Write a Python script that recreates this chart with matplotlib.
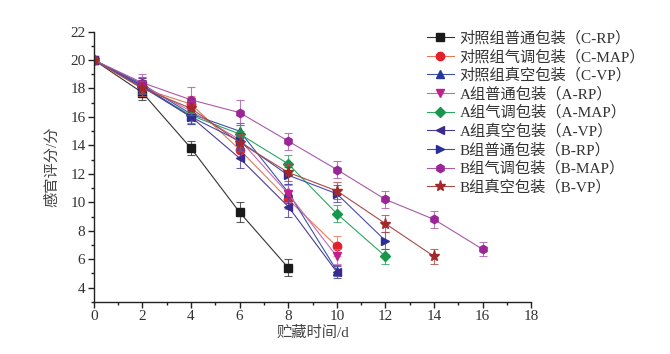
import matplotlib
matplotlib.use("Agg")
import matplotlib.pyplot as plt
from matplotlib.ticker import MultipleLocator

plt.rcParams['font.family'] = ['Liberation Serif', 'Noto Sans CJK SC', 'DejaVu Sans']

labels = ["对照组普通包装（C-RP）", "对照组气调包装（C-MAP）", "对照组真空包装（C-VP）",
          "A组普通包装（A-RP）", "A组气调包装（A-MAP）", "A组真空包装（A-VP）",
          "B组普通包装（B-RP）", "B组气调包装（B-MAP）", "B组真空包装（B-VP）"]

days_c_rp = [0, 2, 4, 6, 8]
c_rp = [20, 17.7, 13.8, 9.3, 5.4]
err_c_rp = [0, 0.5, 0.5, 0.7, 0.6]

days_c_map = [0, 2, 4, 6, 8, 10]
c_map = [20, 18.0, 16.9, 13.7, 10.2, 6.9]
err_c_map = [0, 0.5, 0.6, 0.6, 0.7, 0.7]

days_c_vp = [0, 2, 4, 6, 8, 10]
c_vp = [20, 18.3, 16.2, 15.0, 10.7, 5.2]
err_c_vp = [0, 0.5, 0.5, 0.6, 0.6, 0.4]

days_a_rp = [0, 2, 4, 6, 8, 10]
a_rp = [20, 18.2, 16.4, 14.4, 10.6, 6.2]
err_a_rp = [0, 0.5, 0.6, 0.6, 0.6, 0.5]

days_a_map = [0, 2, 4, 6, 8, 10, 12]
a_map = [20, 18.1, 16.1, 14.8, 12.7, 9.2, 6.2]
err_a_map = [0, 0.5, 0.5, 0.6, 0.6, 0.6, 0.5]

days_a_vp = [0, 2, 4, 6, 8, 10]
a_vp = [20, 18.2, 16.0, 13.1, 9.7, 5.1]
err_a_vp = [0, 0.5, 0.5, 0.7, 0.7, 0.4]

days_b_rp = [0, 2, 4, 6, 8, 10, 12]
b_rp = [20, 18.1, 16.0, 14.3, 11.9, 10.6, 7.3]
err_b_rp = [0, 0.5, 0.5, 0.6, 0.6, 0.6, 0.6]

days_b_map = [0, 2, 4, 6, 8, 10, 12, 14, 16]
b_map = [20, 18.4, 17.2, 16.3, 14.3, 12.3, 10.2, 8.8, 6.7]
err_b_map = [0, 0.6, 0.9, 0.9, 0.6, 0.6, 0.6, 0.6, 0.5]

days_b_vp = [0, 2, 4, 6, 8, 10, 12, 14]
b_vp = [20, 18.0, 16.6, 14.2, 12.1, 10.8, 8.5, 6.2]
err_b_vp = [0, 0.5, 0.5, 0.6, 0.6, 0.6, 0.6, 0.5]

series = [
    (days_c_rp, c_rp, err_c_rp, 's', '#1a1a1a', '#333333'),
    (days_c_map, c_map, err_c_map, 'o', '#e3202b', '#e07a5a'),
    (days_c_vp, c_vp, err_c_vp, '^', '#233a9a', '#3a55a8'),
    (days_a_rp, a_rp, err_a_rp, 'v', '#c0208e', '#c868b0'),
    (days_a_map, a_map, err_a_map, 'D', '#16974a', '#2aa860'),
    (days_a_vp, a_vp, err_a_vp, '<', '#3b2a8c', '#4a3c98'),
    (days_b_rp, b_rp, err_b_rp, '>', '#2b2d98', '#4a4ca8'),
    (days_b_map, b_map, err_b_map, 'h', '#9a2598', '#a85aa8'),
    (days_b_vp, b_vp, err_b_vp, '*', '#a3282c', '#a84a48'),
]

fig = plt.figure(figsize=(6.7, 3.54), dpi=100)
ax = fig.add_axes([0.140, 0.147, 0.653, 0.764])

for (x, y, e, m, c, lc), lab in zip(series, labels):
    ms = 8 if m == '*' else (5 if m == 'D' else 6)
    ax.errorbar(x, y, yerr=e, fmt='none', ecolor=lc, elinewidth=0.8, capsize=3, capthick=0.8, alpha=0.8)
    ax.plot(x, y, color=lc, lw=0.8, marker=m, markersize=ms, markerfacecolor=c,
            markeredgecolor=c, label=lab)

ax.set_xlim(0, 18)
ax.set_ylim(3, 22)
ax.xaxis.set_major_locator(MultipleLocator(2))
ax.xaxis.set_minor_locator(MultipleLocator(1))
ax.set_yticks([4, 6, 8, 10, 12, 14, 16, 18, 20, 22])
ax.yaxis.set_minor_locator(MultipleLocator(1))
ax.spines['top'].set_visible(False)
ax.spines['right'].set_visible(False)
for s in ['left', 'bottom']:
    ax.spines[s].set_linewidth(1.0)
    ax.spines[s].set_color('#222222')
ax.tick_params(which='major', direction='out', length=4, width=1, labelsize=11, colors='#222222', pad=2)
ax.tick_params(which='minor', direction='out', length=2.5, width=1, colors='#222222')
for t in ax.get_xticklabels() + ax.get_yticklabels():
    t.set_color('#333333')

ax.set_xlabel('贮藏时间/d', fontsize=11, color='#444444', labelpad=2)
ax.set_ylabel('感官评分/分', fontsize=11, color='#444444', labelpad=8)

leg = fig.legend(loc='upper left', bbox_to_anchor=(0.628, 0.93), frameon=False,
                 fontsize=11, handlelength=1.75, labelspacing=0.26, handletextpad=0.4,
                 borderaxespad=0)
for t in leg.get_texts():
    t.set_color('#333333')

fig.savefig('out.png', dpi=100)
